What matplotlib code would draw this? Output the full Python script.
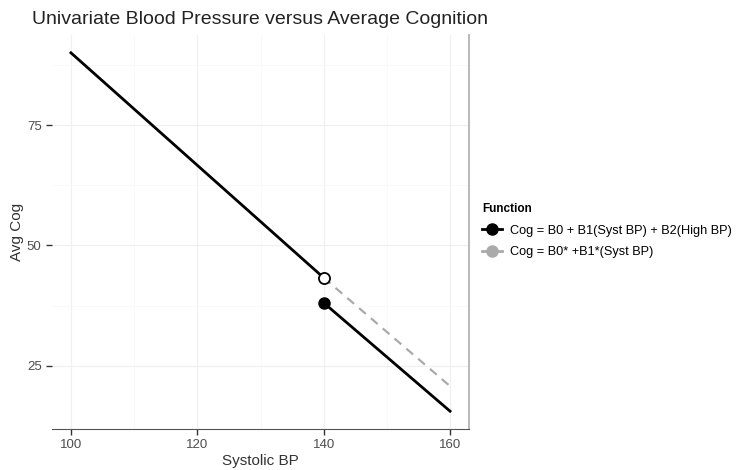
import matplotlib.pyplot as plt
from matplotlib.lines import Line2D

plt.rcParams['font.family'] = ['Liberation Sans', 'DejaVu Sans']

# piecewise model: below / above the 140 threshold
bp_low = [100, 140]
cog_low = [90.0, 43.3]
bp_high = [140, 160]
cog_high = [38.1, 15.6]
# univariate model continuation past 140
bp_uni = [140, 160]
cog_uni = [43.3, 20.8]

x_ticks = [100, 120, 140, 160]
y_ticks = [25, 50, 75]
legend_labels = ["Cog = B0 + B1(Syst BP) + B2(High BP)", "Cog = B0* +B1*(Syst BP)"]

fig = plt.figure(figsize=(7.43, 4.70), dpi=100)
ax = fig.add_axes([52 / 743, 41 / 470, 417 / 743, 394 / 470])

ax.plot(bp_uni, cog_uni, color="#aaaaaa", lw=1.6, ls=(0, (4, 3)), zorder=2)
ax.plot(bp_low, cog_low, color="black", lw=2, zorder=3)
ax.plot(bp_high, cog_high, color="black", lw=2, zorder=3)
ax.plot(bp_low[-1], cog_low[-1], "o", ms=8, mfc="white", mec="black", mew=1.3, zorder=4)
ax.plot(bp_high[0], cog_high[0], "o", ms=8, color="black", zorder=4)

ax.set_xlim(97, 163)
ax.set_ylim(11.9, 93.7)
ax.set_xticks(x_ticks)
ax.set_yticks(y_ticks)
ax.set_xticks([110, 130, 150], minor=True)
ax.set_yticks([37.5, 62.5, 87.5], minor=True)
ax.grid(True, which="major", color="#f0f0f0", lw=0.9)
ax.grid(True, which="minor", color="#f8f8f8", lw=0.6)
ax.set_axisbelow(True)
ax.tick_params(which="major", colors="#333333", labelsize=9.5, length=4, width=1)
ax.tick_params(which="minor", length=0)
ax.tick_params(axis="both", labelcolor="#4d4d4d")

for side in ["left", "top"]:
    ax.spines[side].set_visible(False)
ax.spines["bottom"].set_color("#555555")
ax.spines["right"].set_color("#bbbbbb")
ax.spines["right"].set_linewidth(1.5)

ax.set_xlabel("Systolic BP", fontsize=11, color="#333333", labelpad=2)
ax.set_ylabel("Avg Cog", fontsize=11, color="#333333", labelpad=2)
fig.text(32 / 743, 1 - 19 / 470, "Univariate Blood Pressure versus Average Cognition",
         fontsize=14, va="center", ha="left", color="#222222")

handles = [
    Line2D([0], [0], color="black", lw=2, marker="o", ms=8),
    Line2D([0], [0], color="#aaaaaa", lw=2, marker="o", ms=8),
]
leg = fig.legend(handles, legend_labels, title="Function", loc="upper left",
                 bbox_to_anchor=(473 / 743, 1 - 194 / 470), frameon=False,
                 fontsize=9.2, title_fontsize=8.5, handlelength=1.6,
                 handletextpad=0.6, labelspacing=0.75, borderpad=0.2)
leg.get_title().set_fontweight("bold")
leg._legend_box.align = "left"

fig.savefig("out.png", dpi=100)
